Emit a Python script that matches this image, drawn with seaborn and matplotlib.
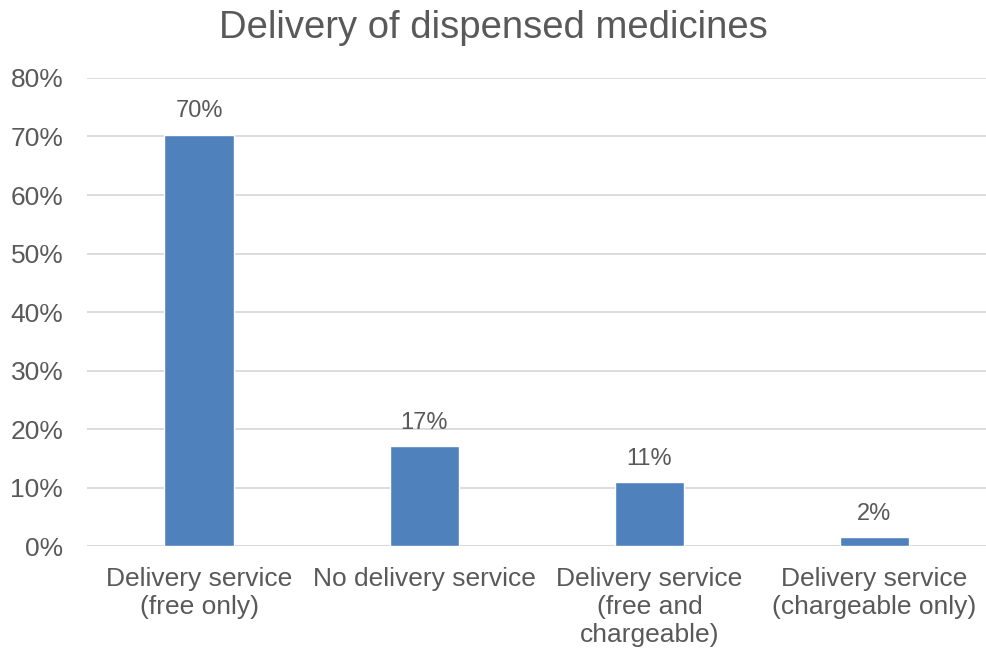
import matplotlib
matplotlib.use('Agg')
import matplotlib.pyplot as plt
import pandas as pd
import seaborn as sns

# values
categories = ['Delivery service\n(free only)', 'No delivery service',
              'Delivery service\n(free and\nchargeable)', 'Delivery service\n(chargeable only)']
shares = [70.3, 17.1, 10.9, 1.5]
bar_labels = ['70%', '17%', '11%', '2%']
y_ticks = [0, 10, 20, 30, 40, 50, 60, 70, 80]

TEXT_GREY = '#595959'
BAR_BLUE = '#4F81BD'

sns.set_style('white')
plt.rcParams['font.family'] = ['Liberation Sans', 'DejaVu Sans']

df = pd.DataFrame({'Category': categories, 'Share': shares})

fig = plt.figure(figsize=(9.87, 6.55), dpi=100)
ax = fig.add_axes([0.088, 0.166, 0.912, 0.715])

sns.barplot(data=df, x='Category', y='Share', color=BAR_BLUE, width=0.31,
            saturation=1, ax=ax, zorder=3)

for bar, label in zip(ax.patches, bar_labels):
    ax.annotate(label, (bar.get_x() + bar.get_width() / 2, bar.get_height()),
                xytext=(0, 9), textcoords='offset points', ha='center', va='bottom',
                fontsize=17, color=TEXT_GREY)

ax.set_ylim(0, 80)
ax.set_yticks(y_ticks)
ax.set_yticklabels([f'{t}%' for t in y_ticks])
ax.yaxis.grid(True, color='#d9d9d9', linewidth=1.3, zorder=0)
ax.set_axisbelow(True)
for side in ['top', 'right', 'left', 'bottom']:
    ax.spines[side].set_visible(False)
ax.axhline(0, color='#d9d9d9', linewidth=1.3, zorder=1)

ax.tick_params(axis='both', length=0, labelsize=19, colors=TEXT_GREY)
ax.tick_params(axis='x', pad=15)
ax.tick_params(axis='y', pad=17)
ax.set_xlabel('')
ax.set_ylabel('')
for lbl in ax.get_xticklabels():
    lbl.set_linespacing(1.2)

fig.suptitle('Delivery of dispensed medicines', fontsize=27.5, color=TEXT_GREY,
             y=0.985, va='top')

fig.savefig('out.png', dpi=100)
